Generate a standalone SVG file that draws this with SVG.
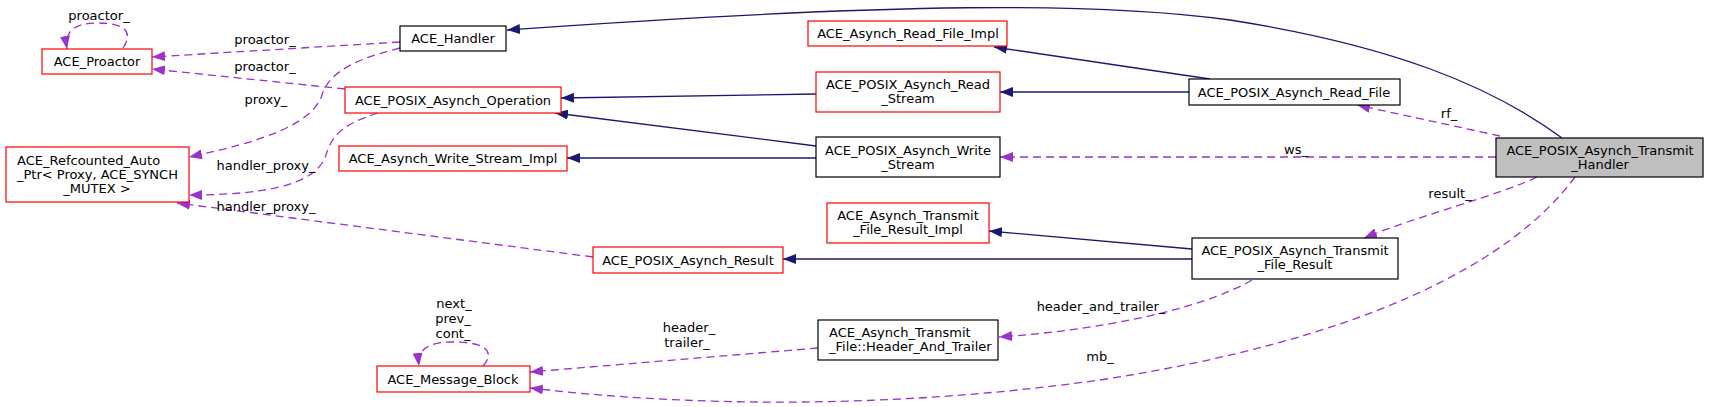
<svg xmlns="http://www.w3.org/2000/svg" width="1709" height="407" viewBox="0 0 1709 407">
<style>
text{font-family:"DejaVu Sans","Liberation Sans",sans-serif;font-size:13px;fill:#000}
.m{text-anchor:middle}
.s{text-anchor:start}
.nr{fill:#fff;stroke:#ff0000;stroke-width:1.2}
.nb{fill:#fff;stroke:#000;stroke-width:1.2}
.ng{fill:#bfbfbf;stroke:#000;stroke-width:1.2}
.inh{fill:none;stroke:#191970;stroke-width:1.3;marker-end:url(#ab)}
.use{fill:none;stroke:#9a32cd;stroke-width:1.3;stroke-dasharray:8,5;marker-end:url(#ap)}
</style>
<defs>
<marker id="ab" viewBox="0 0 13 10" refX="13" refY="5" markerWidth="13" markerHeight="10" markerUnits="userSpaceOnUse" orient="auto"><path d="M0,0 L13,5 L0,10 z" fill="#191970"/></marker>
<marker id="ap" viewBox="0 0 13 10" refX="13" refY="5" markerWidth="13" markerHeight="10" markerUnits="userSpaceOnUse" orient="auto"><path d="M0,0 L13,5 L0,10 z" fill="#9a32cd"/></marker>
</defs>
<rect width="1709" height="407" fill="#fff"/>
<g id="edges">
<path class="inh" d="M1562,138 C1490,85 1390,45 1230,20 C1100,2 900,2 507,30"/>
<path class="inh" d="M1210,79 L994,47"/>
<path class="inh" d="M1189,92 L1000,92"/>
<path class="inh" d="M816,94 L561,98"/>
<path class="inh" d="M816,146 L555,113"/>
<path class="inh" d="M816,158 L567,158"/>
<path class="inh" d="M1192,249 L989,231"/>
<path class="inh" d="M1192,259 L783,259"/>
<path class="use" d="M400,42 L152,57"/>
<text class="m" x="265" y="44">proactor_</text>
<path class="use" d="M345,89 L152,69"/>
<text class="m" x="265" y="71">proactor_</text>
<path class="use" d="M400,48 C360,58 330,70 322,95 C312,125 260,142 189,157"/>
<text class="m" x="266" y="104">proxy_</text>
<path class="use" d="M378,113 C345,124 333,132 326,155 C318,180 280,195 189,195"/>
<text class="m" x="266" y="170">handler_proxy_</text>
<path class="use" d="M593,257 L177,203"/>
<text class="m" x="266" y="211">handler_proxy_</text>
<path class="use" d="M123,48 C135,30 122,23 97,23 C75,23 64,31 67,49"/>
<text class="m" x="99" y="20">proactor_</text>
<path class="use" d="M483,366 C494,354 490,342 453,342 C430,342 417,348 419,366"/>
<text class="m" x="454" y="308">next_</text>
<text class="m" x="453" y="323">prev_</text>
<text class="m" x="453" y="338">cont_</text>
<path class="use" d="M1500,136 L1357,105"/>
<text class="m" x="1449" y="118">rf_</text>
<path class="use" d="M1496,157 L1000,157"/>
<text class="m" x="1296" y="154">ws_</text>
<path class="use" d="M1537,177 C1500,195 1420,215 1364,238"/>
<text class="m" x="1450" y="198">result_</text>
<path class="use" d="M1252,280 C1200,310 1100,330 999,337"/>
<text class="m" x="1101" y="311">header_and_trailer_</text>
<path class="use" d="M818,348 L530,372"/>
<text class="m" x="689" y="332">header_</text>
<text class="m" x="687" y="347">trailer_</text>
<path class="use" d="M1575,177 C1510,265 1360,340 1100,380 C900,408 700,408 530,388"/>
<text class="m" x="1100" y="361">mb_</text>
</g>
<g id="n_proactor"><rect class="nr" x="42" y="49" width="110" height="25"/><text class="m" x="97" y="66">ACE_Proactor</text></g>
<g id="n_handler"><rect class="nb" x="400" y="26" width="106" height="25"/><text class="m" x="453" y="43">ACE_Handler</text></g>
<g id="n_operation"><rect class="nr" x="345" y="87" width="216" height="26"/><text class="m" x="453" y="105">ACE_POSIX_Asynch_Operation</text></g>
<g id="n_wsimpl"><rect class="nr" x="339" y="146" width="228" height="25"/><text class="m" x="453" y="163">ACE_Asynch_Write_Stream_Impl</text></g>
<g id="n_refcounted"><rect class="nr" x="6" y="147" width="183" height="55"/><text class="s" x="17" y="165">ACE_Refcounted_Auto</text><text class="s" x="17" y="179">_Ptr&lt; Proxy, ACE_SYNCH</text><text class="m" x="97" y="193">_MUTEX &gt;</text></g>
<g id="n_rfimpl"><rect class="nr" x="808" y="21" width="199" height="25"/><text class="m" x="908" y="38">ACE_Asynch_Read_File_Impl</text></g>
<g id="n_readstream"><rect class="nr" x="816" y="72" width="184" height="40"/><text class="m" x="908" y="89">ACE_POSIX_Asynch_Read</text><text class="m" x="908" y="103">_Stream</text></g>
<g id="n_writestream"><rect class="nb" x="816" y="137" width="184" height="40"/><text class="m" x="908" y="155">ACE_POSIX_Asynch_Write</text><text class="m" x="908" y="169">_Stream</text></g>
<g id="n_readfile"><rect class="nb" x="1189" y="79" width="211" height="26"/><text class="m" x="1294" y="97">ACE_POSIX_Asynch_Read_File</text></g>
<g id="n_transmithandler"><rect class="ng" x="1496" y="138" width="207" height="39"/><text class="m" x="1600" y="155">ACE_POSIX_Asynch_Transmit</text><text class="m" x="1600" y="169">_Handler</text></g>
<g id="n_tfrimpl"><rect class="nr" x="827" y="203" width="162" height="40"/><text class="m" x="908" y="220">ACE_Asynch_Transmit</text><text class="m" x="908" y="234">_File_Result_Impl</text></g>
<g id="n_result"><rect class="nr" x="593" y="247" width="190" height="26"/><text class="m" x="688" y="265">ACE_POSIX_Asynch_Result</text></g>
<g id="n_tfresult"><rect class="nb" x="1192" y="238" width="206" height="41"/><text class="m" x="1295" y="255">ACE_POSIX_Asynch_Transmit</text><text class="m" x="1295" y="269">_File_Result</text></g>
<g id="n_headertrailer"><rect class="nb" x="818" y="320" width="180" height="40"/><text class="s" x="829" y="337">ACE_Asynch_Transmit</text><text class="s" x="829" y="351">_File::Header_And_Trailer</text></g>
<g id="n_msgblock"><rect class="nr" x="377" y="366" width="153" height="26"/><text class="m" x="453" y="384">ACE_Message_Block</text></g>
</svg>
